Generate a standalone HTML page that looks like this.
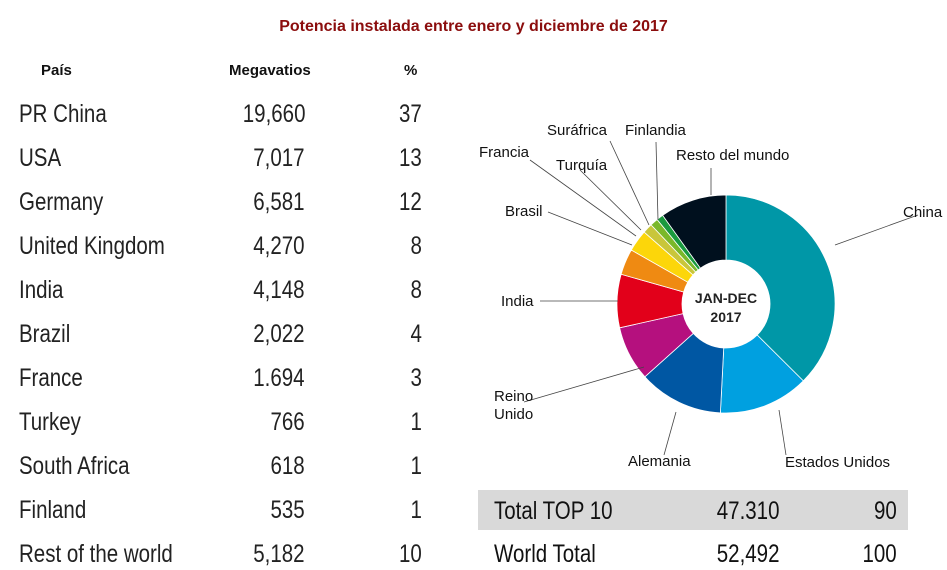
<!DOCTYPE html>
<html><head><meta charset="utf-8"><style>
body{margin:0;width:947px;height:570px;background:#fff;overflow:hidden;position:relative;font-family:"Liberation Sans",sans-serif;}
.t{position:absolute;white-space:nowrap;}
.row{font-size:25px;color:#222;transform:scaleX(0.82);transform-origin:left center;}
.r{transform-origin:right center;text-align:right;}
.h{font-size:15px;font-weight:bold;color:#111;}
</style></head><body>
<div style="position:absolute;left:478px;top:490px;width:430px;height:40px;background:#d9d9d9"></div>
<div class="t" style="left:0;width:947px;top:18px;text-align:center;font-size:16px;font-weight:bold;color:#8b0d0d;">Potencia instalada entre enero y diciembre de 2017</div>
<div class="t h" style="left:41px;top:62px">País</div>
<div class="t h" style="left:229px;top:62px">Megavatios</div>
<div class="t h" style="left:404px;top:62px">%</div>
<div id="tbl"></div>
<svg id="pie" width="947" height="570" style="position:absolute;left:0;top:0"></svg>
<script>
var rows=[["PR China","19,660","37"],["USA","7,017","13"],["Germany","6,581","12"],["United Kingdom","4,270","8"],["India","4,148","8"],["Brazil","2,022","4"],["France","1.694","3"],["Turkey","766","1"],["South Africa","618","1"],["Finland","535","1"],["Rest of the world","5,182","10"]];
var h="";
rows.forEach(function(r,i){var y=100+i*44;
h+='<div class="t row" style="left:19px;top:'+y+'px">'+r[0]+'</div>';
h+='<div class="t row r" style="right:642px;top:'+y+'px">'+r[1]+'</div>';
h+='<div class="t row r" style="right:525px;top:'+y+'px">'+r[2]+'</div>';});
h+='<div class="t row" style="left:494px;top:497px;color:#111">Total TOP 10</div>';
h+='<div class="t row r" style="right:168px;top:497px;color:#111">47.310</div>';
h+='<div class="t row r" style="right:50px;top:497px;color:#111">90</div>';
h+='<div class="t row" style="left:494px;top:540px;color:#111">World Total</div>';
h+='<div class="t row r" style="right:168px;top:540px;color:#111">52,492</div>';
h+='<div class="t row r" style="right:50px;top:540px;color:#111">100</div>';
document.getElementById("tbl").innerHTML=h;
var v=[19660,7017,6581,4270,4148,2022,1694,766,618,535,5182],tot=52492;
var col=["#0097a7","#00a0e0","#0057a3","#b5107e","#e2001a","#ef8a12","#fcd60a","#c9c63a","#7ab829","#1a9a3e","#00101e"];
var cx=726,cy=304,R=109,r=44,a=0,s="";
function p(rad,ang){return [cx+rad*Math.sin(ang),cy-rad*Math.cos(ang)];}
v.forEach(function(x,i){var b=a+x/tot*2*Math.PI,l=(b-a)>Math.PI?1:0;
var A=p(R,a),B=p(R,b),C=p(r,b),D=p(r,a);
s+='<path d="M'+A+' A'+R+' '+R+' 0 '+l+' 1 '+B+' L'+C+' A'+r+' '+r+' 0 '+l+' 0 '+D+'Z" fill="'+col[i]+'" stroke="#fff" stroke-width="0.8"/>';a=b;});
var L=[[835,245,918,215],[779,410,786,455],[676,412,664,455],[644,367,524,402],[618,301,540,301],[632,245,548,212],[636,236,530,160],[641,230,580,170],[649,225,610,141],[658,220,656,142],[711,195,711,168]];
L.forEach(function(l){s+='<line x1="'+l[0]+'" y1="'+l[1]+'" x2="'+l[2]+'" y2="'+l[3]+'" stroke="#444" stroke-width="0.8"/>';});
var T=[["China",903,217],["Estados Unidos",785,467],["Alemania",628,466],["Reino",494,401],["Unido",494,419],["India",501,306],["Brasil",505,216],["Francia",479,157],["Turquía",556,170],["Suráfrica",547,135],["Finlandia",625,135],["Resto del mundo",676,160]];
T.forEach(function(t){s+='<text x="'+t[1]+'" y="'+t[2]+'" font-size="15" fill="#111" font-family="Liberation Sans,sans-serif">'+t[0]+'</text>';});
s+='<text x="726" y="303" text-anchor="middle" font-size="14" font-weight="bold" fill="#222" font-family="Liberation Sans,sans-serif">JAN-DEC</text>';
s+='<text x="726" y="322" text-anchor="middle" font-size="14" font-weight="bold" fill="#222" font-family="Liberation Sans,sans-serif">2017</text>';
document.getElementById("pie").innerHTML=s;
</script>
</body></html>
